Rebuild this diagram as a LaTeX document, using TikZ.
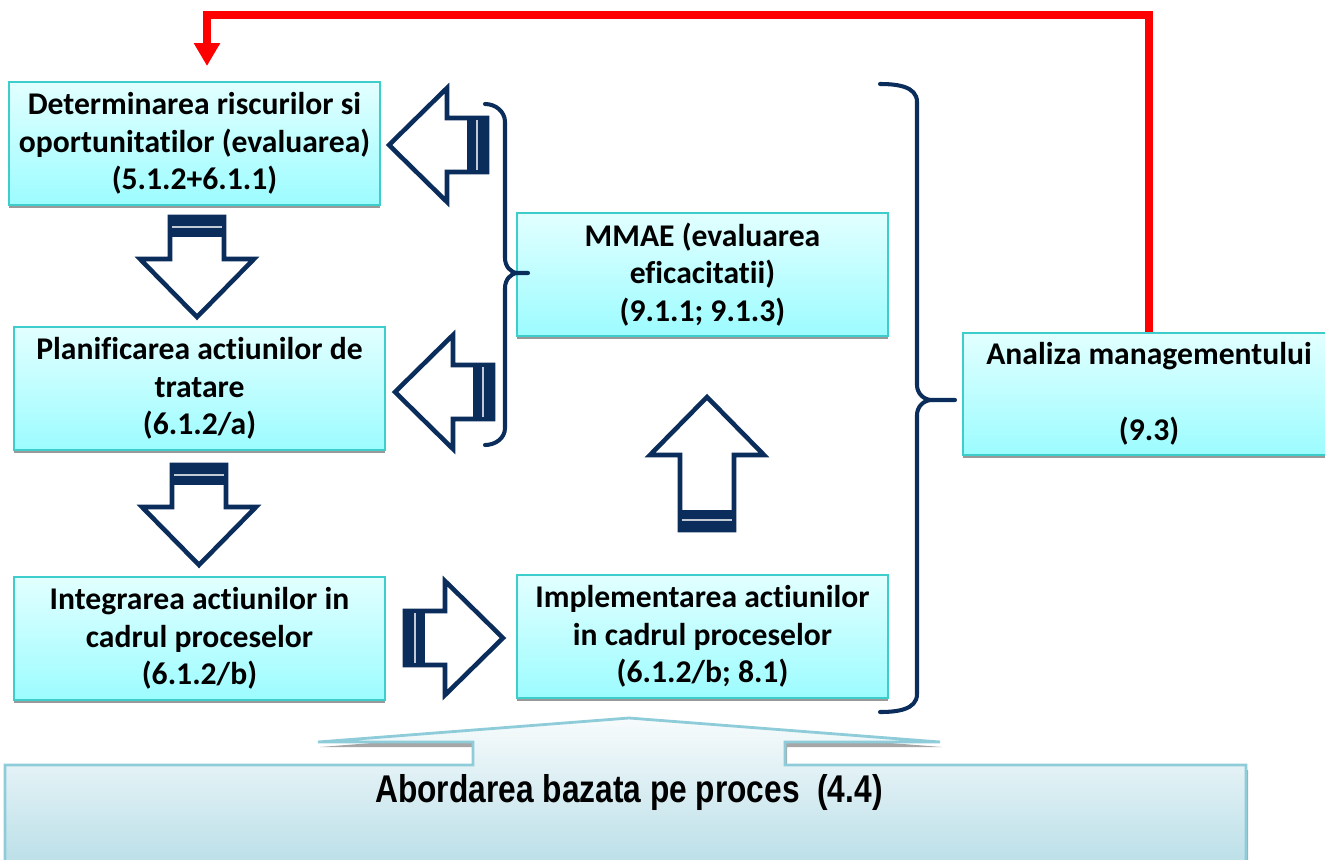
\documentclass[tikz,border=0pt]{standalone}
\usepackage{fontspec}
\usepackage{graphicx}
\setmainfont{Carlito}[Ligatures={NoCommon}]
\newfontfamily\basefont{Liberation Sans}
\usetikzlibrary{arrows.meta,shadows}
\definecolor{navy}{HTML}{0B2D5B}
\definecolor{boxline}{HTML}{3DCDCB}
\definecolor{boxtop}{HTML}{E2FFFF}
\definecolor{boxbot}{HTML}{9CFCFF}
\definecolor{baseline}{HTML}{8FCCDA}
\definecolor{basetop}{HTML}{F7FBFC}
\definecolor{basebot}{HTML}{B4DCE6}
\tikzset{
  box/.style={draw=boxline,line width=1.4pt,top color=boxtop,bottom color=boxbot,
    minimum width=7.42cm,minimum height=2.46cm,align=center,inner sep=2pt,
    font=\fontsize{18}{21.5}\selectfont\bfseries,
    drop shadow={shadow xshift=0pt,shadow yshift=-0.07cm,fill=gray!80,opacity=1}},
  brace/.style={navy,line width=2.3pt,line cap=round},
  redline/.style={red,line width=4.5pt,-{Triangle[width=0.5cm,length=0.46cm]}},
  pics/blockarrow/.style={code={
    \draw[navy,line width=2.6pt,fill=white,line join=miter] (0,-27)--(#1,-27)--(#1,-57)--(#1+58,0)--(#1,57)--(#1,27)--(0,27)--cycle;
    \fill[navy] (-1,-28) rectangle (20,28);
    \draw[white!75!navy,line width=0.6pt] (10,-25)--(10,25);
  }},
}
\begin{document}
\begin{tikzpicture}[x=0.02cm,y=-0.02cm]
  \path[use as bounding box,clip] (0,0) rectangle (1325,859);
  % base of the process approach
  \draw[draw=baseline,line width=1.6pt,top color=basetop,bottom color=basebot,
    drop shadow={shadow xshift=0.04cm,shadow yshift=-0.1cm,fill=gray!70,opacity=1}]
    (5,765) -- (473,765) -- (473,742) -- (318,742) -- (629,718) -- (940,742)
    -- (785,742) -- (785,765) -- (1246,765) -- (1246,880) -- (5,880) -- cycle;
  \node[font=\basefont\bfseries\fontsize{22}{26}\selectfont] (base) at (629,792)
    {\scalebox{0.82}[1]{Abordarea bazata pe proces\ \ (4.4)}};
  % boxes
  \node[box] (risc) at (194.5,143.5) {Determinarea riscurilor si\\oportunitatilor (evaluarea)\\(5.1.2+6.1.1)};
  \node[box] (plan) at (199.5,388.5) {Planificarea actiunilor de\\tratare\\(6.1.2/a)};
  \node[box] (integ) at (199.5,638.5) {Integrarea actiunilor in\\cadrul proceselor\\(6.1.2/b)};
  \node[box] (mmae) at (702.5,274.5) {MMAE (evaluarea\\eficacitatii)\\(9.1.1; 9.1.3)};
  \node[box] (impl) at (702.5,636.5) {Implementarea actiunilor\\in cadrul proceselor\\(6.1.2/b; 8.1)};
  \node[box,minimum width=7.44cm,minimum height=2.44cm] (anal) at (1149,394) {Analiza managementului\\[21.5pt](9.3)};
  % braces
  \draw[brace] (485,104) to[out=0,in=90] (505,122) -- (505,258) to[out=-90,in=180] (518,273) -- (528,273);
  \draw[brace] (518,273) to[out=180,in=90] (505,288) -- (505,428) to[out=-90,in=0] (485,445);
  \draw[brace] (880,84) to[out=0,in=90] (917,102) -- (917,385) to[out=-90,in=180] (932,400) -- (955,400);
  \draw[brace] (932,400) to[out=180,in=90] (917,415) -- (917,694) to[out=-90,in=0] (880,712);
  % block arrows
  \foreach \x/\y/\r/\l in {487/145/180/40,493/392/180/40,197/217/-90/42,199/465/-90/42,405/638/0/40,707/530/90/75}{
    \pic[rotate=\r] at (\x,\y) {blockarrow=\l};
  }
  % feedback
  \coordinate (back) at (207,66);
  \draw[redline] (anal.north) |- (207,15) -- (back);
\end{tikzpicture}
\end{document}
